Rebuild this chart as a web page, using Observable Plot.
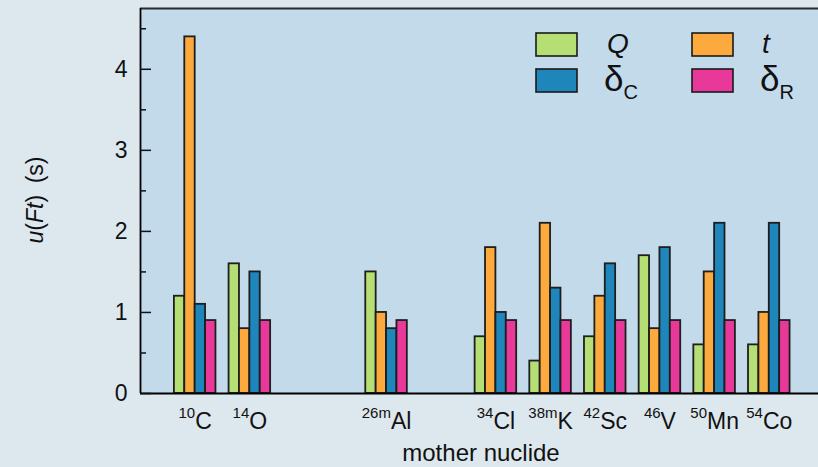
<!DOCTYPE html>
<html><head><meta charset="utf-8">
<script src="https://cdn.jsdelivr.net/npm/d3@7"></script>
<script src="https://cdn.jsdelivr.net/npm/@observablehq/plot@0.6"></script>
<style>
html,body{margin:0;padding:0;background:#dde7ee;overflow:hidden;}
#chart{width:818px;height:467px;}
</style></head><body><div id="chart"></div>
<script>
const nuclides = ["10C","14O","26mAl","34Cl","38mK","42Sc","46V","50Mn","54Co"];
const protonNumber = [6, 8, 13, 17, 19, 21, 23, 25, 27];
const seriesNames = ["Q", "t", "δC", "δR"];
const valuesQ = [1.2, 1.6, 1.5, 0.7, 0.4, 0.7, 1.7, 0.6, 0.6];
const valuesT = [4.4, 0.8, 1.0, 1.8, 2.1, 1.2, 0.8, 1.5, 1.0];
const valuesDeltaC = [1.1, 1.5, 0.8, 1.0, 1.3, 1.6, 1.8, 2.1, 2.1];
const valuesDeltaR = [0.9, 0.9, 0.9, 0.9, 0.9, 0.9, 0.9, 0.9, 0.9];
const yTicks = [0, 1, 2, 3, 4];
const yMinorTicks = [0.5, 1.5, 2.5, 3.5, 4.5];
const colors = ["#b5df75", "#fca93d", "#1e86bb", "#e8399a"];

const allSeries = [valuesQ, valuesT, valuesDeltaC, valuesDeltaR];
const bw = 0.38; // bar width in Z units
const bars = [];
allSeries.forEach((vals, k) => {
  vals.forEach((v, i) => {
    const x1 = protonNumber[i] + (k - 2) * bw;
    bars.push({series: seriesNames[k], x1, x2: x1 + bw, value: v});
  });
});

const font = "'Liberation Sans', Arial, sans-serif";
const plot = Plot.plot({
  width: 818, height: 467,
  marginLeft: 140, marginRight: 0, marginTop: 8, marginBottom: 74,
  style: {background: "transparent", fontFamily: font, color: "#111", overflow: "visible"},
  x: {domain: [4, 28.8]},
  y: {domain: [0, 4.75]},
  color: {domain: seriesNames, range: colors},
  marks: [
    Plot.frame({fill: "#c3daea", stroke: null}),
    Plot.rect(bars, {x1: "x1", x2: "x2", y1: 0, y2: "value", fill: "series", stroke: "#1e1e1e", strokeWidth: 1.8}),
    Plot.ruleY([4.75], {stroke: "#2a2a2a", strokeWidth: 2}),
    Plot.ruleX([4], {stroke: "#000", strokeWidth: 1.8}),
    Plot.ruleY([0], {stroke: "#000", strokeWidth: 1.8}),
    Plot.axisY(yTicks, {tickSize: 0, tickPadding: 13, fontSize: 23, label: null, tickFormat: d => String(d)}),
    Plot.axisY(yTicks, {tickSize: -11, tickFormat: () => "", label: null, strokeWidth: 1.5}),
    Plot.axisY(yMinorTicks, {tickSize: -6, tickFormat: () => "", label: null, strokeWidth: 1.5}),
    Plot.axisX(protonNumber, {tickSize: 0, tickPadding: 19, fontSize: 23, label: null,
      tickFormat: z => nuclides[protonNumber.indexOf(z)]})
  ]
});
document.getElementById("chart").appendChild(plot);

const svg = d3.select(plot);
svg.selectAll('g[aria-label="y-axis tick label"] text').attr("font-size", 23);
// superscript mass numbers on x tick labels
svg.selectAll('g[aria-label="x-axis tick label"] text').each(function() {
  const t = d3.select(this).attr("font-size", 23);
  const s = t.text();
  const m = s.match(/^(\d+m?)(.*)$/);
  if (!m) return;
  t.text("");
  t.append("tspan").attr("font-size", 15).attr("dy", "-11").text(m[1]);
  t.append("tspan").attr("font-size", 23).attr("dy", "11").text(m[2]);
});

// y-axis title
const yt = svg.append("text").attr("transform", "translate(43,200) rotate(-90)")
  .attr("text-anchor", "middle").attr("font-size", 23).attr("fill", "#111").attr("font-family", font);
yt.append("tspan").attr("font-style", "italic").text("u");
yt.append("tspan").text("(");
yt.append("tspan").attr("font-style", "italic").text("Ft");
yt.append("tspan").text(")\u2002(s)");

// x-axis title
svg.append("text").attr("x", 481).attr("y", 461).attr("text-anchor", "middle")
  .attr("font-size", 24).attr("fill", "#111").attr("font-family", font).text("mother nuclide");

// legend
const legend = [
  {k: 0, x: 536, y: 33, tx: 607, ty: 53, main: "Q", sub: null, italic: true},
  {k: 1, x: 692, y: 33, tx: 762, ty: 53, main: "t", sub: null, italic: true},
  {k: 2, x: 536, y: 69, tx: 604, ty: 91, main: "δ", sub: "C", italic: false},
  {k: 3, x: 692, y: 69, tx: 760, ty: 91, main: "δ", sub: "R", italic: false}
];
const lg = svg.append("g").attr("font-family", font).attr("fill", "#111").attr("text-anchor", "start");
legend.forEach(d => {
  lg.append("rect").attr("x", d.x).attr("y", d.y).attr("width", 41).attr("height", 23)
    .attr("fill", colors[d.k]).attr("stroke", "#1a1a1a").attr("stroke-width", 1.6);
  const t = lg.append("text").attr("x", d.tx).attr("y", d.ty).attr("text-anchor", "start");
  t.append("tspan").attr("font-style", d.italic ? "italic" : null)
    .attr("font-size", d.sub ? 35 : 28).text(d.main);
  if (d.sub) t.append("tspan").attr("font-size", 20).attr("dy", 8).text(d.sub);
});
</script></body></html>
